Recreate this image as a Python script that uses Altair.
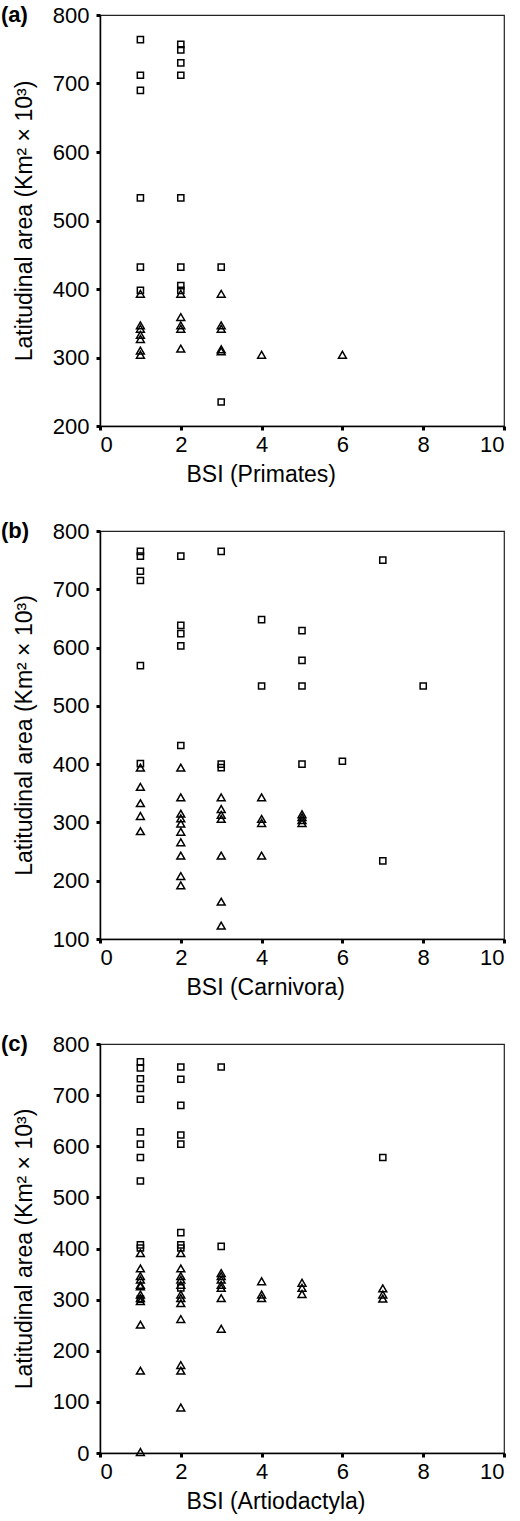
import altair as alt
import pandas as pd

# ---------------- data ----------------
# Panel (a) Primates
A_SQ_X = [1, 1, 1, 1, 1, 1, 2, 2, 2, 2, 2, 2, 2, 2, 3, 3]
A_SQ_Y = [764, 712, 690, 533, 432, 398, 757, 749, 730, 712, 533, 432, 405, 398, 432, 235]
A_TR_X = [1, 1, 1, 1, 1, 1, 1, 2, 2, 2, 2, 2, 3, 3, 3, 3, 3, 4, 6]
A_TR_Y = [393, 347, 342, 333, 327, 310, 304, 393, 359, 347, 342, 313, 393, 347, 342, 312, 309, 304, 304]

# Panel (b) Carnivora
B_SQ_X = [1, 1, 1, 1, 1, 1, 2, 2, 2, 2, 2, 3, 3, 3, 4, 4, 5, 5, 5, 5, 6, 7, 7, 8]
B_SQ_Y = [765, 757, 731, 715, 569, 401, 757, 638, 624, 603, 432, 765, 400, 394, 648, 534,
          629, 578, 534, 400, 405, 750, 234, 534]
B_TR_X = [1, 1, 1, 1, 1, 2, 2, 2, 2, 2, 2, 2, 2, 2, 2, 3, 3, 3, 3, 3, 3, 3, 4, 4, 4, 4, 5, 5, 5, 5]
B_TR_Y = [394, 361, 333, 311, 285, 394, 343, 315, 307, 298, 284, 266, 243, 208, 192,
          343, 323, 313, 306, 243, 164, 123, 343, 306, 299, 243, 314, 309, 304, 299]

# Panel (c) Artiodactyla
C_SQ_X = [1, 1, 1, 1, 1, 1, 1, 1, 1, 1, 1, 1, 2, 2, 2, 2, 2, 2, 2, 2, 2, 3, 3, 7]
C_SQ_Y = [765, 753, 732, 713, 692, 628, 604, 578, 532, 407, 401, 301,
          755, 731, 680, 622, 604, 431, 407, 401, 323, 755, 404, 578]
C_TR_X = [1] * 12 + [2] * 12 + [3] * 7 + [4] * 3 + [5] * 3 + [7] * 3
C_TR_Y = [391, 361, 346, 339, 329, 326, 310, 303, 297, 251, 161, 2,
          391, 361, 346, 339, 329, 310, 303, 293, 262, 172, 161, 89,
          352, 346, 339, 329, 323, 303, 243,
          336, 310, 303,
          333, 323, 311,
          322, 310, 302]

X_TICKS = [0, 2, 4, 6, 8, 10]
Y_TITLE = "Latitudinal area (Km\u00b2 \u00d7 10\u00b3)"
FONT = "Liberation Sans"


def make_df(sx, sy, tx, ty):
    return pd.DataFrame({
        "bsi": list(sx) + list(tx),
        "area": list(sy) + list(ty),
        "kind": ["square"] * len(sx) + ["triangle"] * len(tx),
    })


def panel(df, ymin, xtitle, tag, h):
    pts = alt.Chart(df).mark_point(filled=False, color="black", strokeWidth=1.5, opacity=1).encode(
        x=alt.X("bsi:Q", scale=alt.Scale(domain=[0, 10], nice=False, zero=False),
                axis=alt.Axis(values=X_TICKS, title=xtitle, labelPadding=4, titlePadding=8,
                              titleX=86, titleAlign="left")),
        y=alt.Y("area:Q", scale=alt.Scale(domain=[ymin, 800], nice=False, zero=False),
                axis=alt.Axis(values=list(range(ymin, 801, 100)), title=Y_TITLE,
                              labelPadding=7, titlePadding=16)),
        shape=alt.Shape("kind:N", scale=alt.Scale(domain=["square", "triangle"],
                                                  range=["square", "triangle-up"]), legend=None),
        size=alt.Size("kind:N", scale=alt.Scale(domain=["square", "triangle"], range=[38, 62]),
                      legend=None),
    )
    lab = alt.Chart(pd.DataFrame({"t": [tag]})).mark_text(
        font=FONT, fontSize=22, fontWeight="bold", align="left", baseline="middle", color="black"
    ).encode(text="t:N", x=alt.value(-99), y=alt.value(0))
    return alt.layer(pts, lab).properties(width=404, height=h)


pa = panel(make_df(A_SQ_X, A_SQ_Y, A_TR_X, A_TR_Y), 200, "BSI (Primates)", "(a)", 411)
pb = panel(make_df(B_SQ_X, B_SQ_Y, B_TR_X, B_TR_Y), 100, "BSI (Carnivora)", "(b)", 408)
pc = panel(make_df(C_SQ_X, C_SQ_Y, C_TR_X, C_TR_Y), 0, "BSI (Artiodactyla)", "(c)", 409)

chart = alt.vconcat(pa, pb, pc, spacing=32).properties(
    padding={"left": 0, "top": 3, "right": 0, "bottom": 0},
    background="white",
).configure_view(stroke="#222", strokeWidth=1.2).configure_axis(
    grid=False,
    domainColor="black", domainWidth=1.5,
    tickColor="black", tickWidth=3, tickSize=4,
    labelFont=FONT, labelFontSize=22, labelColor="black",
    titleFont=FONT, titleFontSize=23, titleFontWeight="normal", titleColor="black",
)

chart.save("out.html", embed_options={"renderer": "svg", "actions": False})
